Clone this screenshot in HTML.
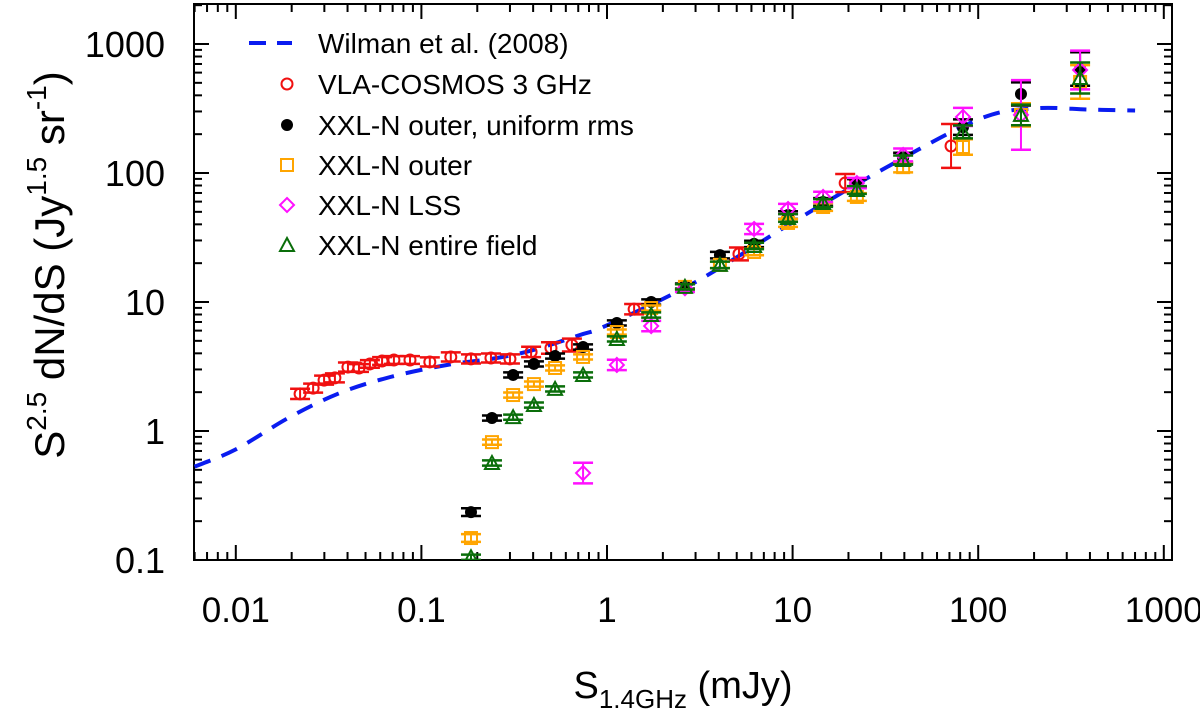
<!DOCTYPE html>
<html><head><meta charset="utf-8"><style>
body{margin:0;background:#fff}
svg{display:block;font-family:"Liberation Sans",Arial,sans-serif}
</style></head><body>
<svg id="chart" width="1200" height="712" viewBox="0 0 1200 712"></svg>
<script>
// ---- data ----
const wilmanS = [0.006, 0.01, 0.0195, 0.0364, 0.068, 0.137, 0.255, 0.4, 0.715, 1, 3, 10, 30, 100, 200, 400, 700];
const wilmanV = [0.53, 0.72, 1.28, 1.97, 2.62, 3.25, 3.68, 4.24, 5.55, 6.6, 14.3, 41.5, 105, 260, 317, 310, 305];

const vlaS = [0.0222,0.0261,0.0299,0.0342,0.0402,0.0461,0.0528,0.0614,0.0711,0.0868,0.111,0.144,0.185,0.237,0.300,0.390,0.499,0.647,1.40,5.14,19.2,71.4];
const vlaV = [1.94,2.15,2.48,2.58,3.13,3.08,3.31,3.49,3.55,3.55,3.43,3.75,3.62,3.68,3.62,4.10,4.40,4.64,8.8,23.6,83.6,162];
const vlaErr = [0.04,0.035,0.035,0.035,0.035,0.03,0.03,0.03,0.03,0.03,0.035,0.035,0.035,0.035,0.035,0.04,0.045,0.05,0.04,0.05,0.07,0.17];

const xxlS = [0.185,0.240,0.312,0.404,0.525,0.743,1.13,1.73,2.63,4.06,6.2,9.45,14.6,22.2,39.4,82.8,170,354];
const uniV = [0.235,1.26,2.72,3.31,3.81,4.48,6.88,10,13.3,23.1,28.2,47.2,59.6,83.6,131,227,410,640];
const uniErr = [0.03,0.02,0.02,0.02,0.02,0.02,0.02,0.02,0.02,0.025,0.025,0.03,0.03,0.03,0.04,0.06,0.09,0.13];
const outerV = [0.148,0.82,1.90,2.31,3.08,3.75,5.85,8.98,13.1,19.4,24.4,41,54.5,65.2,111,159,282,508];
const outerErr = [0.03,0.02,0.02,0.02,0.02,0.02,0.02,0.02,0.02,0.025,0.025,0.03,0.03,0.03,0.04,0.06,0.09,0.13];
const entireV = [0.105,0.565,1.28,1.59,2.12,2.72,5.17,7.93,13.1,19.4,27.2,44.8,58.5,73.8,126,208,282,545];
const entireErr = [0.02,0.02,0.02,0.02,0.02,0.02,0.02,0.02,0.02,0.025,0.025,0.03,0.03,0.03,0.035,0.05,0.08,0.12];
const lssS = [0.743,1.13,1.73,2.63,6.2,9.45,14.6,22.2,39.4,82.8,170,354];
const lssV = [0.472,3.25,6.51,12.8,36.8,52.6,65.2,83.6,138,272,282,629];
const lssErr = [0.08,0.04,0.04,0.03,0.04,0.04,0.04,0.04,0.05,0.07,0.27,0.15];

const xTickVals = [0.01,0.1,1,10,100,1000];
const xTickLabels = ["0.01","0.1","1","10","100","1000"];
const yTickVals = [0.1,1,10,100,1000];
const yTickLabels = ["0.1","1","10","100","1000"];

// ---- axes ----
const L=194,R=1172,T=4,B=560;
const X0=607, XD=185.6, Y0=431, YD=129;
function xs(v){return X0+Math.log10(v)*XD;}
function ys(v){return Y0-Math.log10(v)*YD;}
const NS="http://www.w3.org/2000/svg";
const svg=document.getElementById('chart');
function mk(tag,attrs,parent){const e=document.createElementNS(NS,tag);for(const k in attrs)e.setAttribute(k,attrs[k]);(parent||svg).appendChild(e);return e;}

const clip=mk('clipPath',{id:'pc'});mk('rect',{x:L,y:T,width:R-L,height:B-T},clip);

const frame=mk('rect',{x:L,y:T,width:R-L,height:B-T,fill:'none',stroke:'#000','stroke-width':2});



const ticks=mk('g',{stroke:'#000','stroke-width':2});


for(let e=-3;e<=3;e++){for(let m=1;m<10;m++){const v=m*Math.pow(10,e);const x=xs(v);if(x<L||x>R)continue;const len=m===1?15:8;
 mk('line',{x1:x,x2:x,y1:B,y2:B-len},ticks);mk('line',{x1:x,x2:x,y1:T,y2:T+len},ticks);}}
for(let e=-2;e<=4;e++){for(let m=1;m<10;m++){const v=m*Math.pow(10,e);const y=ys(v);if(y<T||y>B)continue;const len=m===1?15:8;
 mk('line',{x1:L,x2:L+len,y1:y,y2:y},ticks);mk('line',{x1:R,x2:R-len,y1:y,y2:y},ticks);}}

xTickVals.forEach((v,i)=>{const t=mk('text',{x:xs(v),y:622,'text-anchor':'middle','font-size':35});t.textContent=xTickLabels[i];
 
 });
yTickVals.forEach((v,i)=>{const t=mk('text',{x:165,y:ys(v)+13,'text-anchor':'end','font-size':36});t.textContent=yTickLabels[i];
 
 });

const xt=mk('text',{x:683,y:698,'text-anchor':'middle','font-size':38});
xt.innerHTML='S<tspan font-size="26" dy="10">1.4GHz</tspan><tspan dy="-10"> (mJy)</tspan>';


const yt=mk('text',{x:0,y:0,'text-anchor':'middle','font-size':42,transform:'translate(64,265) rotate(-90)'});
yt.innerHTML='S<tspan font-size="28" dy="-18">2.5</tspan><tspan dy="18"> dN/dS  (Jy</tspan><tspan font-size="28" dy="-18">1.5</tspan><tspan dy="18"> sr</tspan><tspan font-size="28" dy="-18">-1</tspan><tspan dy="18">)</tspan>';



const pg=mk('g',{'clip-path':'url(#pc)'});
const pts=wilmanS.map((s,i)=>[xs(s),ys(wilmanV[i])]);
let d='M'+pts[0][0].toFixed(1)+','+pts[0][1].toFixed(1);
for(let i=0;i<pts.length-1;i++){const p0=pts[Math.max(0,i-1)],p1=pts[i],p2=pts[i+1],p3=pts[Math.min(pts.length-1,i+2)];
 const c1=[p1[0]+(p2[0]-p0[0])/6,p1[1]+(p2[1]-p0[1])/6],c2=[p2[0]-(p3[0]-p1[0])/6,p2[1]-(p3[1]-p1[1])/6];
 d+=` C${c1[0].toFixed(1)},${c1[1].toFixed(1)} ${c2[0].toFixed(1)},${c2[1].toFixed(1)} ${p2[0].toFixed(1)},${p2[1].toFixed(1)}`;}
const curve=mk('path',{d:d,fill:'none',stroke:'#0a1cf0','stroke-width':4,'stroke-dasharray':'17,12'},pg);



function marker(g,type,x,y,color){
 if(type==='circle')return mk('circle',{cx:x,cy:y,r:5.5,fill:'none',stroke:color,'stroke-width':2},g);
 if(type==='dot')return mk('circle',{cx:x,cy:y,r:6,fill:color},g);
 if(type==='square')return mk('rect',{x:x-6,y:y-6,width:12,height:12,fill:'none',stroke:color,'stroke-width':2},g);
 if(type==='diamond')return mk('path',{d:`M${x},${y-7}L${x+7},${y}L${x},${y+7}L${x-7},${y}Z`,fill:'none',stroke:color,'stroke-width':2},g);
 if(type==='tri')return mk('path',{d:`M${x},${y-7}L${x+7},${y+6}L${x-7},${y+6}Z`,fill:'none',stroke:color,'stroke-width':2},g);
}
function series(name,S,V,E,type,color){
 const g=mk('g',{},pg);
 
 
 S.forEach((s,i)=>{const x=xs(s),y=ys(V[i]);const y1=ys(V[i]*Math.pow(10,E[i])),y2=ys(V[i]/Math.pow(10,E[i]));
  mk('line',{x1:x,x2:x,y1:y1,y2:y2,stroke:color,'stroke-width':2},g);
  mk('line',{x1:x-10,x2:x+10,y1:y1,y2:y1,stroke:color,'stroke-width':2.5},g);
  mk('line',{x1:x-10,x2:x+10,y1:y2,y2:y2,stroke:color,'stroke-width':2.5},g);
  const m=marker(g,type,x,y,color);
  
  
 });
}
series('vla-cosmos-series',vlaS,vlaV,vlaErr,'circle','#f01010');
series('xxl-outer-uniform-series',xxlS,uniV,uniErr,'dot','#000');
series('xxl-outer-series',xxlS,outerV,outerErr,'square','#ffa500');
series('xxl-lss-series',lssS,lssV,lssErr,'diamond','#ff10ff');
series('xxl-entire-series',xxlS,entireV,entireErr,'tri','#0a6e0a');

const lg=mk('g',{});


const entries=[['Wilman et al. (2008)','line','#0a1cf0'],['VLA-COSMOS 3 GHz','circle','#f01010'],['XXL-N outer, uniform rms','dot','#000'],['XXL-N outer','square','#ffa500'],['XXL-N LSS','diamond','#ff10ff'],['XXL-N entire field','tri','#0a6e0a']];
const rowY=[43,84,125,165,205,245];
entries.forEach((e,i)=>{const y=rowY[i];
 const eg=mk('g',{},lg);
 
 
 if(e[1]==='line'){mk('line',{x1:249,x2:266,y1:y,y2:y,stroke:e[2],'stroke-width':4},eg);mk('line',{x1:277,x2:292,y1:y,y2:y,stroke:e[2],'stroke-width':4},eg);}
 else marker(eg,e[1],287,y,e[2]);
 const t=mk('text',{x:318,y:y+10,'font-size':28},eg);t.textContent=e[0];});
</script>
</body></html>
